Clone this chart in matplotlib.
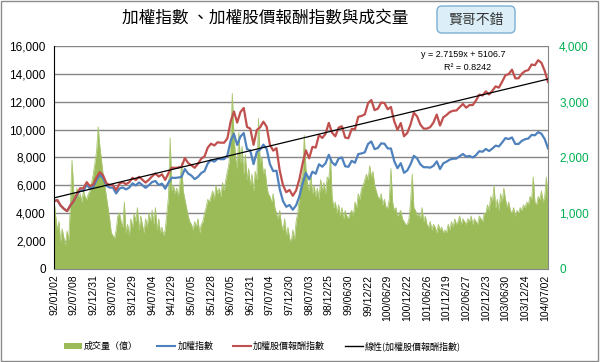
import matplotlib.pyplot as plt
import numpy as np
from matplotlib.patches import Rectangle, Patch, FancyBboxPatch
from matplotlib.lines import Line2D
from matplotlib.ticker import FuncFormatter
from matplotlib.transforms import IdentityTransform

plt.rcParams['font.family'] = ['Noto Sans CJK TC', 'DejaVu Sans']

# half-year category labels (ROC calendar)
date_labels = ['92/01/02', '92/07/08', '92/12/31', '93/07/02', '93/12/29', '94/07/04',
               '94/12/29', '95/07/05', '95/12/28', '96/07/05', '96/12/31', '97/07/04',
               '97/12/30', '98/07/03', '98/12/25', '99/06/30', '99/12/22', '100/06/29',
               '100/12/22', '101/06/26', '101/12/19', '102/06/27', '102/12/23', '103/06/30',
               '103/12/24', '104/07/02']

# 加權指數, one value per month (start of 2003 .. Jul 2015)
taiex = [4850, 4950, 4560, 4320, 4150, 4560, 4870, 5320, 5650, 5610, 6050, 5770, 5890,
         6375, 6750, 6520, 5980, 5840, 5840, 5420, 5770, 5850, 5710, 5840, 6140,
         5990, 6210, 6010, 5820, 6010, 6240, 6310, 6030, 6120, 5760, 6200, 6550,
         6530, 6560, 6610, 7170, 6850, 6700, 6450, 6610, 6880, 7020, 7570, 7820,
         7700, 7900, 7880, 7880, 8150, 9200, 9700, 8900, 9500, 9750, 8600, 8500,
         7520, 8410, 8570, 8920, 8620, 7520, 7020, 7050, 5720, 4870, 4460, 4590,
         4250, 4560, 5210, 6130, 6890, 6430, 6980, 6830, 7510, 7340, 7580, 8190,
         7640, 7440, 7920, 8000, 7370, 7330, 7760, 7620, 8240, 8290, 8370, 8970,
         9150, 8600, 8680, 9010, 8990, 8650, 8640, 7740, 7230, 7590, 6900, 7070,
         7520, 8120, 7930, 7500, 7300, 7300, 7270, 7400, 7720, 7170, 7580, 7700,
         7850, 7910, 7920, 8090, 8250, 8060, 8110, 8000, 8170, 8450, 8410, 8610,
         8460, 8640, 8850, 8790, 9080, 9390, 9320, 9440, 8970, 8970, 9190, 9310,
         9360, 9620, 9590, 9820, 9700, 9320, 8660]

# 加權股價報酬指數, same months
total_return = [4850, 4950, 4560, 4320, 4150, 4560, 4870, 5370, 5790, 5780, 6230, 5940, 6070,
                6570, 6950, 6720, 6160, 6020, 6020, 5660, 6120, 6230, 6080, 6220, 6540,
                6380, 6610, 6400, 6200, 6400, 6650, 6850, 6630, 6790, 6390, 6880, 7270,
                7250, 7280, 7340, 7960, 7600, 7440, 7260, 7540, 7910, 8070, 8710, 8990,
                8860, 9090, 9060, 9060, 9370, 10580, 11300, 10500, 11260, 11550, 10190, 10070,
                8910, 9970, 10160, 10570, 10210, 8910, 8490, 8670, 7060, 6010, 5510, 5670,
                5250, 5630, 6430, 7570, 8510, 7940, 8760, 8710, 9610, 9400, 9700, 10480,
                9780, 9520, 10140, 10240, 9430, 9380, 10050, 10020, 10920, 10980, 11090, 11890,
                12120, 11400, 11500, 11940, 11910, 11460, 11620, 10600, 9980, 10470, 9520, 9760,
                10380, 11210, 10940, 10350, 10070, 10070, 10180, 10510, 11080, 10290, 10880, 11050,
                11260, 11350, 11370, 11610, 11840, 11570, 11760, 11760, 12090, 12510, 12450, 12740,
                12520, 12790, 13100, 13010, 13440, 13900, 13980, 14300, 13680, 13680, 14010, 14200,
                14270, 14670, 14620, 14980, 14790, 14210, 13420]

# 成交量(億), two values per month
volume = [1250, 950, 700, 850, 480, 720, 560, 430, 680, 520, 1150, 1950,
          1400, 1250, 1450, 1300, 1350, 1200, 1400, 1300, 1250, 1350, 1400, 1550,
          1700, 1900, 2100, 2550, 2200, 1950, 1700, 1500, 1300, 1100, 900, 650,
          600, 550, 700, 950, 1000, 850, 750, 1200, 650, 800, 600, 900,
          750, 1000, 850, 1100, 700, 950, 800, 650, 900, 750, 1000, 850,
          1050, 800, 1100, 700, 900, 650, 750, 600, 700, 1000, 1300, 2350,
          1400, 1500, 1350, 1450, 1300, 1550, 1900, 1400, 1250, 1100, 950, 850,
          800, 700, 850, 750, 900, 650, 800, 850, 1000, 1100, 1250, 1200,
          1300, 1400, 1250, 1500, 1350, 1450, 1300, 1550, 1400, 1600, 1750, 1900,
          2300, 3150, 2400, 2000, 1800, 2450, 1900, 2200, 1700, 2050, 1600, 1800,
          1500, 1700, 1400, 1750, 1600, 2700, 1900, 2000, 1700, 1800, 1500, 1350,
          1300, 1200, 1350, 1100, 1000, 900, 1050, 800, 700, 900, 600, 750,
          550, 480, 700, 520, 850, 1000, 1300, 1600, 1700, 2400, 1800, 1500,
          1400, 1700, 1350, 1500, 1300, 1450, 1250, 1600, 1400, 1550, 1350, 1650,
          1600, 2000, 1300, 1100, 1200, 1000, 1150, 950, 1100, 900, 1050, 950,
          900, 1000, 1050, 950, 1200, 1100, 1350, 1250, 1450, 1500, 1600, 1700,
          1600, 1850, 1650, 1750, 1500, 1400, 1300, 1250, 1350, 1150, 1250, 1100,
          1100, 1250, 1800, 1200, 1050, 1100, 950, 1000, 1050, 900, 850, 800,
          800, 900, 1200, 1700, 1100, 1050, 950, 1000, 900, 1100, 850, 950,
          800, 750, 850, 700, 800, 750, 650, 800, 700, 750, 650, 700,
          650, 800, 700, 850, 750, 900, 800, 850, 950, 800, 900, 850,
          800, 900, 850, 950, 800, 900, 850, 800, 950, 900, 850, 1000,
          1000, 1150, 1050, 1300, 1200, 1500, 1100, 1250, 1050, 1350, 1200, 1450,
          1250, 1100, 1200, 1050, 1000, 1100, 950, 1050, 1000, 1100, 1050, 1150,
          1100, 1200, 1150, 1300, 1250, 1650, 1200, 1150, 1300, 1250, 1400, 1200,
          1300, 1650, 1250]

x_m = np.arange(len(taiex))
x_v = np.arange(len(volume)) * 0.5

green = '#9BBB59'
blue = '#4F81BD'
red = '#C0504D'

fig = plt.figure(figsize=(6, 3.62), dpi=100)
fig.add_artist(Rectangle((0.002, 0.003), 0.994, 0.993, transform=fig.transFigure,
                         fill=False, ec='#8c8c8c', lw=1))

ax = fig.add_axes([0.09, 0.257, 0.8233, 0.616])
ax2 = ax.twinx()
ax.set_zorder(2)
ax.patch.set_visible(False)

# volume area on the right axis, gridlines under it
for g in range(500, 4001, 500):
    ax2.axhline(g, color='#868686', lw=1, zorder=0.5)
ax2.fill_between(x_v, volume, 0, color=green, lw=0, zorder=1)
ax2.plot(x_v, volume, color='#A9C66E', lw=0.6, zorder=1.1)
ax2.set_ylim(0, 4000)
ax2.set_yticks([0, 1000, 2000, 3000, 4000])

ax.plot(x_m, taiex, color=blue, lw=1.6)
ax.plot(x_m, total_return, color=red, lw=1.6)
coef = np.polyfit(x_m, total_return, 1)
ax.plot(x_m, np.polyval(coef, x_m), color='black', lw=0.9)

ax.set_xlim(0, len(taiex) - 1)
ax.set_ylim(0, 16000)
ax.set_yticks(range(0, 16001, 2000))
ax.set_xticks(np.arange(0, 151, 6))
ax.set_xticklabels(date_labels, rotation=90)

fmt = FuncFormatter(lambda v, p: f'{v:,.0f}')
ax.yaxis.set_major_formatter(fmt)
ax2.yaxis.set_major_formatter(fmt)
ax.tick_params(axis='y', length=0, labelsize=8.5, pad=6, labelfontfamily='Liberation Sans')
ax.tick_params(axis='x', length=0, labelsize=7.5, pad=4, labelfontfamily='Liberation Sans')
ax2.tick_params(axis='y', length=0, labelsize=8.5, pad=8, labelcolor='#00B050',
                labelfontfamily='Liberation Sans')

for a in (ax, ax2):
    a.spines['top'].set_visible(False)
ax.spines['left'].set_color('black')
ax.spines['bottom'].set_color('#868686')
ax2.spines['right'].set_color('#868686')
ax2.spines['left'].set_visible(False)
ax2.spines['bottom'].set_visible(False)
ax.spines['right'].set_visible(False)

ax.text(0.828, 0.962, 'y = 2.7159x + 5106.7', transform=ax.transAxes, ha='center',
        va='center', fontsize=6.5, family='Liberation Sans')
ax.text(0.838, 0.905, 'R² = 0.8242', transform=ax.transAxes, ha='center',
        va='center', fontsize=6.5, family='Liberation Sans')

fig.text(0.442, 0.95, '加權指數 、加權股價報酬指數與成交量', ha='center', va='center', fontsize=12)

# rounded badge at top right, drawn in pixel units
fig.add_artist(FancyBboxPatch((437, 362 - 33), 78, 27, boxstyle='round,pad=0,rounding_size=5',
                              transform=IdentityTransform(), fc='#DCEFF8', ec='#7BAFD4', lw=1))
fig.text(476 / 600, 1 - 19.5 / 362, '賢哥不錯', ha='center', va='center', fontsize=10,
         color='#333333')

handles = [Patch(fc=green, ec='none'),
           Line2D([], [], color=blue, lw=1.5),
           Line2D([], [], color=red, lw=1.5),
           Line2D([], [], color='black', lw=1)]
labels = ['成交量（億）', '加權指數', '加權股價報酬指數', '線性(加權股價報酬指數)']
fig.legend(handles, labels, loc='center', bbox_to_anchor=(0.437, 0.044), ncol=4,
           frameon=False, fontsize=6.5, handlelength=2.0, handleheight=0.7,
           columnspacing=2.2, handletextpad=0.2)

fig.savefig('out.png', dpi=100, facecolor='white')
